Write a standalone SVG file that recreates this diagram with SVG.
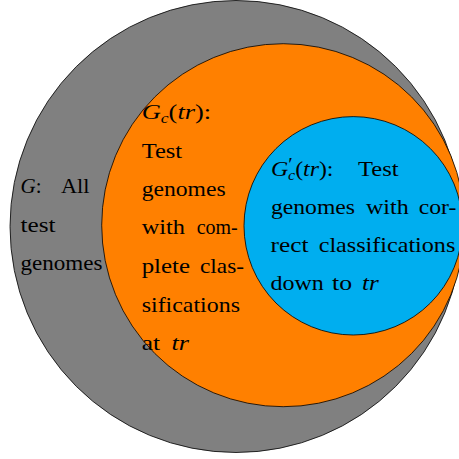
<svg xmlns="http://www.w3.org/2000/svg" width="459" height="459" viewBox="0 0 459 459">
<style>
.c{stroke:#000;stroke-width:0.8}
text{font-family:"Liberation Serif","Times New Roman",serif;font-size:21px;fill:#000}
.i{font-style:italic}
.s{font-size:14px}
</style>
<rect width="459" height="459" fill="#fff"/>
<g id="all-test-genomes">
<circle class="c" cx="236" cy="226.5" r="226" fill="#808080"/>
<text x="20.5" y="193" textLength="21" lengthAdjust="spacingAndGlyphs"><tspan class="i">G</tspan>:</text>
<text x="61" y="193" textLength="28.5" lengthAdjust="spacingAndGlyphs">All</text>
<text x="20.5" y="231.5" textLength="35" lengthAdjust="spacingAndGlyphs">test</text>
<text x="20.5" y="270" textLength="82" lengthAdjust="spacingAndGlyphs">genomes</text>
</g>
<g id="complete-classifications">
<circle class="c" cx="283.2" cy="225.2" r="181.5" fill="#ff8000"/>
<text x="141.7" y="119" textLength="69.5" lengthAdjust="spacingAndGlyphs"><tspan class="i">G</tspan><tspan class="i s" dy="4">c</tspan><tspan dy="-4">(</tspan><tspan class="i">tr</tspan>):</text>
<text x="141.7" y="157.5" textLength="40.5" lengthAdjust="spacingAndGlyphs">Test</text>
<text x="141.7" y="196" textLength="84" lengthAdjust="spacingAndGlyphs">genomes</text>
<text x="141.7" y="234" textLength="43.3" lengthAdjust="spacingAndGlyphs">with</text>
<text x="196.7" y="234" textLength="41" lengthAdjust="spacingAndGlyphs">com-</text>
<text x="141.7" y="273" textLength="48.3" lengthAdjust="spacingAndGlyphs">plete</text>
<text x="200" y="273" textLength="44" lengthAdjust="spacingAndGlyphs">clas-</text>
<text x="141.7" y="311.5" textLength="98.3" lengthAdjust="spacingAndGlyphs">sifications</text>
<text x="141.7" y="350" textLength="18.3" lengthAdjust="spacingAndGlyphs">at</text>
<text class="i" x="171.5" y="350" textLength="17.5" lengthAdjust="spacingAndGlyphs">tr</text>
</g>
<g id="correct-classifications">
<circle class="c" cx="353.2" cy="225.8" r="109.2" fill="#00aeef"/>
<text x="271" y="176" textLength="62.5" lengthAdjust="spacingAndGlyphs"><tspan class="i">G</tspan><tspan font-size="18" dy="-5">′</tspan><tspan class="i s" dx="-4" dy="9">c</tspan><tspan dy="-4">(</tspan><tspan class="i">tr</tspan>):</text>
<text x="358" y="176" textLength="40.5" lengthAdjust="spacingAndGlyphs">Test</text>
<text x="271" y="214" textLength="84" lengthAdjust="spacingAndGlyphs">genomes</text>
<text x="366" y="214" textLength="42.7" lengthAdjust="spacingAndGlyphs">with</text>
<text x="418.7" y="214" textLength="37.6" lengthAdjust="spacingAndGlyphs">cor-</text>
<text x="270.5" y="252" textLength="38" lengthAdjust="spacingAndGlyphs">rect</text>
<text x="318.7" y="252" textLength="136.6" lengthAdjust="spacingAndGlyphs">classifications</text>
<text x="270.5" y="290" textLength="53.3" lengthAdjust="spacingAndGlyphs">down</text>
<text x="332" y="290" textLength="20" lengthAdjust="spacingAndGlyphs">to</text>
<text class="i" x="362" y="290" textLength="16.7" lengthAdjust="spacingAndGlyphs">tr</text>
</g>
</svg>
